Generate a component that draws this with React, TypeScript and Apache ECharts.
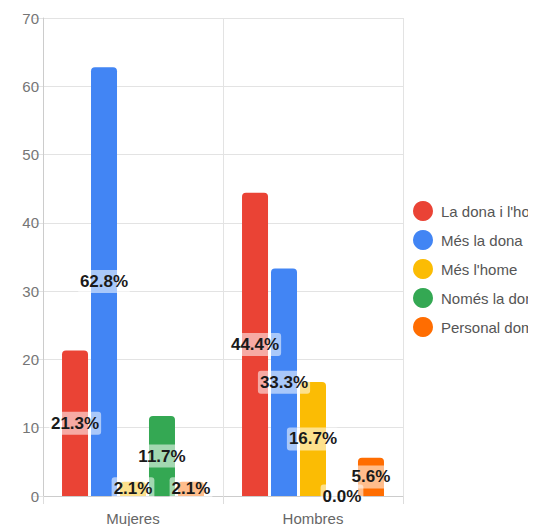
import React, { useEffect, useRef } from "react";
import * as echarts from "echarts";

const categories = ["Mujeres", "Hombres"];
const seriesNames = ["La dona i l'home", "Més la dona", "Més l'home", "Només la dona", "Personal domèstic"];
const laDonaILHome = [21.3, 44.4];
const mesLaDona = [62.8, 33.3];
const mesLHome = [2.1, 16.7];
const nomesLaDona = [11.7, 0.0];
const personalDomestic = [2.1, 5.6];
const colors = ["#EA4335", "#4285F4", "#FBBC04", "#34A853", "#FF6D01"];

export default function App() {
  const ref = useRef<HTMLDivElement>(null);
  useEffect(() => {
    if (!ref.current) return;
    const chart = echarts.init(ref.current, null, { renderer: "svg" });
    const values = [laDonaILHome, mesLaDona, mesLHome, nomesLaDona, personalDomestic];
    chart.setOption({
      animation: false,
      textStyle: { fontFamily: "Arial, 'Liberation Sans', sans-serif" },
      grid: { left: 35, top: 10, width: 360, height: 479 },
      legend: {
        orient: "vertical",
        left: 400,
        top: 188,
        icon: "circle",
        itemWidth: 20,
        itemHeight: 20,
        itemGap: 9,
        textStyle: { fontSize: 15, color: "#555", padding: [0, 0, 0, 3] },
        data: seriesNames,
      },
      xAxis: {
        type: "category",
        data: categories,
        axisLine: { lineStyle: { color: "#cccccc" } },
        axisTick: { show: true, length: 8, lineStyle: { color: "#dddddd" } },
        splitLine: { show: true, lineStyle: { color: "#e3e3e3" } },
        axisLabel: { fontSize: 15, color: "#666", margin: 15 },
      },
      yAxis: {
        type: "value",
        min: 0,
        max: 70,
        interval: 10,
        axisLine: { show: true, lineStyle: { color: "#cccccc" } },
        axisTick: { show: true, length: 10, lineStyle: { color: "#e3e3e3" } },
        splitLine: { lineStyle: { color: "#e3e3e3" } },
        axisLabel: { fontSize: 15, color: "#757575", margin: 4 },
      },
      series: seriesNames.map((name, i) => ({
        name,
        type: "bar",
        data: values[i],
        barWidth: 26,
        barGap: "11.5%",
        itemStyle: { color: colors[i], borderRadius: [4, 4, 0, 0] },
        label: {
          show: true,
          position: "inside",
          formatter: (p: any) => `${Number(p.value).toFixed(1)}%`,
          color: "#1a1a1a",
          fontSize: 17,
          lineHeight: 19,
          fontWeight: "bold",
          backgroundColor: "rgba(255,255,255,0.55)",
          borderRadius: 3,
          padding: [2, 2],
        },
      })),
    });
    return () => chart.dispose();
  }, []);
  return <div ref={ref} style={{ width: 528, height: 518, overflow: "hidden" }} />;
}
